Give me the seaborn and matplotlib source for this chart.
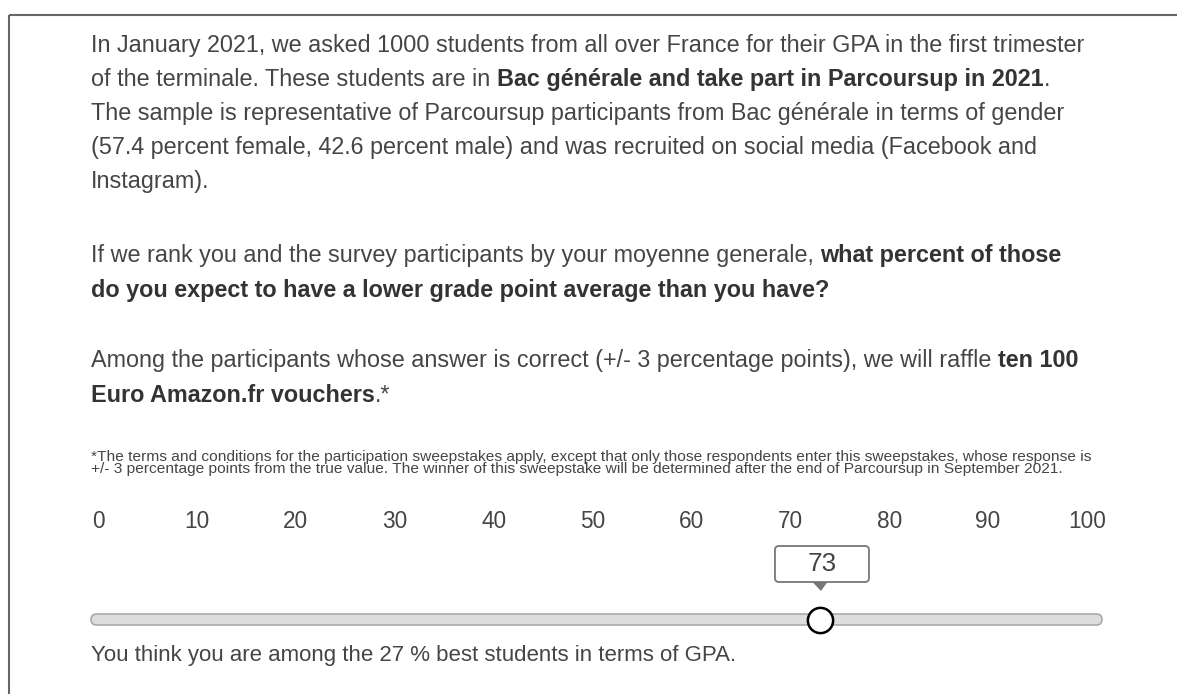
import numpy as np
import pandas as pd
import matplotlib
matplotlib.use("Agg")
import matplotlib.pyplot as plt
import seaborn as sns
from matplotlib.patches import FancyBboxPatch, Polygon

# ---------------- data ----------------
tick_values = [0, 10, 20, 30, 40, 50, 60, 70, 80, 90, 100]
tick_labels = [str(v) for v in tick_values]
slider_value = 73
best_share = 100 - slider_value

para1 = [
    [("In January 2021, we asked 1000 students from all over France for their GPA in the first trimester", False)],
    [("of the terminale. These students are in ", False),
     ("Bac générale and take part in Parcoursup in 2021", True), (".", False)],
    [("The sample is representative of Parcoursup participants from Bac générale in terms of gender", False)],
    [("(57.4 percent female, 42.6 percent male) and was recruited on social media (Facebook and", False)],
    [("Instagram).", False)],
]
para2 = [
    [("If we rank you and the survey participants by your moyenne generale, ", False),
     ("what percent of those", True)],
    [("do you expect to have a lower grade point average than you have?", True)],
]
para3 = [
    [("Among the participants whose answer is correct (+/- 3 percentage points), we will raffle ", False),
     ("ten 100", True)],
    [("Euro Amazon.fr vouchers", True), (".*", False)],
]
footnote = [
    "*The terms and conditions for the participation sweepstakes apply, except that only those respondents enter this sweepstakes, whose response is",
    "+/- 3 percentage points from the true value. The winner of this sweepstake will be determined after the end of Parcoursup in September 2021.",
]
bottom_text = f"You think you are among the {best_share} % best students in terms of GPA."

# ---------------- setup ----------------
sns.set_theme(style="white")
plt.rcParams["font.family"] = ["Liberation Sans", "DejaVu Sans"]

W, H = 1177, 694
fig = plt.figure(figsize=(W / 100, H / 100), dpi=100)
fig.patch.set_facecolor("white")
ax = fig.add_axes([0, 0, 1, 1])
ax.set_xlim(0, W)
ax.set_ylim(H, 0)
ax.axis("off")

renderer = fig.canvas.get_renderer()
TXT = "#454545"
BOLD = "#333333"


def measure(s, size, bold=False):
    t = ax.text(0, 0, s, fontsize=size, fontweight="bold" if bold else "normal")
    w = t.get_window_extent(renderer=renderer).width
    t.remove()
    return w


def fit(s, target, bold=False, base=14.0):
    return base * target / measure(s, base, bold)


main_fs = fit(para1[0][0][0], 997)
foot_fs = fit(footnote[0], 1003)
bottom_fs = fit(bottom_text, 651)
tick_fs = main_fs * 0.97
space_w = measure("a a", main_fs) - measure("aa", main_fs)


def draw_runs(runs, x, y, size):
    for s, b in runs:
        trail = s.endswith(" ")
        s2 = s.rstrip(" ")
        t = ax.text(x, y, s2, fontsize=size, fontweight="bold" if b else "normal",
                    color=BOLD if b else TXT, va="baseline", ha="left")
        x += t.get_window_extent(renderer=renderer).width
        if trail:
            x += space_w


LEFT = 91
for runs, y in zip(para1, [52, 86, 120, 154, 188]):
    draw_runs(runs, LEFT, y, main_fs)
for runs, y in zip(para2, [262, 297]):
    draw_runs(runs, LEFT, y, main_fs)
for runs, y in zip(para3, [367, 402]):
    draw_runs(runs, LEFT, y, main_fs)
for s, y in zip(footnote, [461, 473]):
    ax.text(LEFT, y, s, fontsize=foot_fs, color=TXT, va="baseline", ha="left")

ax.text(LEFT, 661, bottom_text, fontsize=bottom_fs, color=TXT, va="baseline", ha="left")

# border
ax.plot([9, W], [15, 15], color="#666666", lw=1.5, solid_capstyle="butt")
ax.plot([9, 9], [15, H], color="#666666", lw=1.5, solid_capstyle="butt")

# slider track
ax.add_patch(FancyBboxPatch((91, 614), 1011, 11,
                            boxstyle="round,pad=0,rounding_size=5.5",
                            fc="#dddddd", ec="#aaaaaa", lw=1.2, zorder=2))

# slider axes: x in value units, y in pixels
X0, X100 = 98, 1087
scale = (X100 - X0) / 100
sx = fig.add_axes([0, 0, 1, 1])
sx.patch.set_alpha(0)

handle_df = pd.DataFrame({"value": [slider_value], "y": [620]})
sns.scatterplot(data=handle_df, x="value", y="y", ax=sx, s=330, color="white",
                edgecolor="black", linewidth=1.8, zorder=5, legend=False)

for v, lab in zip(tick_values, tick_labels):
    sx.text(v, 528, lab, fontsize=tick_fs, color=TXT, ha="center", va="baseline")

# tooltip
px = X0 + slider_value * scale
ax.add_patch(FancyBboxPatch((px - 45, 546), 94, 36,
                            boxstyle="round,pad=0,rounding_size=4",
                            fc="white", ec="#777777", lw=1.3, zorder=3))
ax.add_patch(Polygon([(px - 7.5, 582), (px + 7.5, 582), (px + 1, 591)],
                     closed=True, fc="#777777", ec="none", zorder=3))
ax.text(px + 2, 564, str(slider_value), fontsize=main_fs * 1.12, color=TXT,
        ha="center", va="center")

sx.set_xlim(-X0 / scale, (W - X0) / scale)
sx.set_ylim(H, 0)
sx.axis("off")

fig.savefig("out.png", dpi=100, facecolor="white")
